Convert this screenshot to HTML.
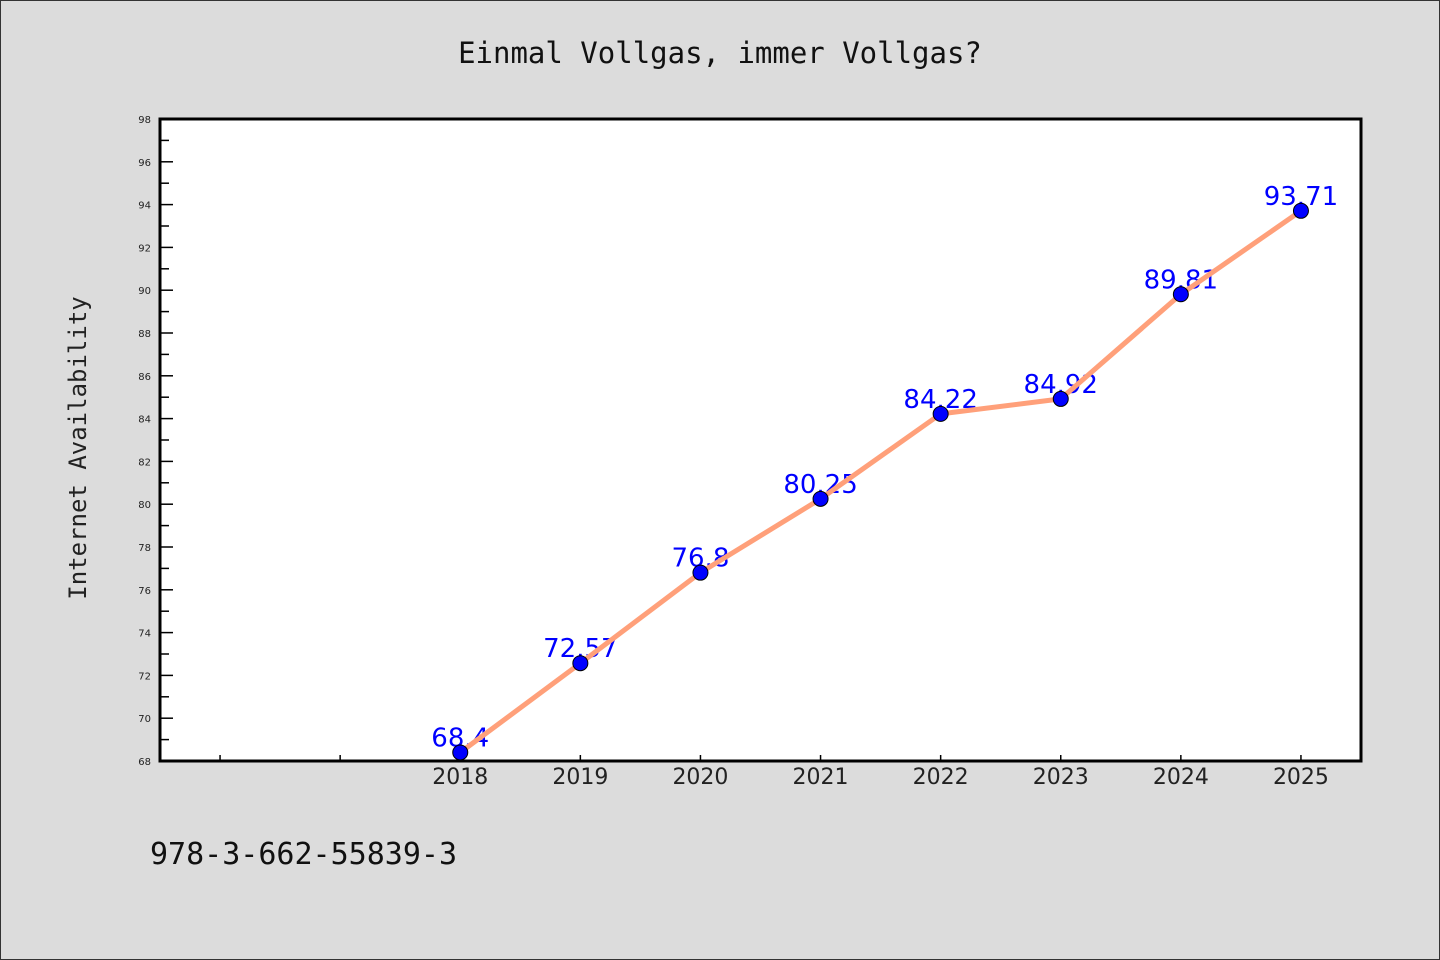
<!DOCTYPE html>
<html><head><meta charset="utf-8"><style>
html,body{margin:0;padding:0;background:#dcdcdc;}
svg{display:block;}
</style></head><body>
<svg width="1440" height="960" viewBox="0 0 1440 960">
<rect x="0.5" y="0.5" width="1439" height="959" fill="#dcdcdc" stroke="#333" stroke-width="1"/>
<text x="720" y="63" text-anchor="middle" font-family="DejaVu Sans Mono, Liberation Mono, monospace" font-size="29" fill="#111">Einmal Vollgas, immer Vollgas?</text>
<text transform="translate(86,448) rotate(-90)" text-anchor="middle" font-family="DejaVu Sans Mono, Liberation Mono, monospace" font-size="24" fill="#222">Internet Availability</text>
<text x="150" y="864" font-family="DejaVu Sans Mono, Liberation Mono, monospace" font-size="30" fill="#111">978-3-662-55839-3</text>
<rect x="160" y="119" width="1201" height="642" fill="#fff"/>
<g id="ticks"></g>
<g id="labels"></g>
<g id="series"></g>
<rect x="160" y="119" width="1201" height="642" fill="none" stroke="#000" stroke-width="3"/>
</svg>
<script>
const years = [2018, 2019, 2020, 2021, 2022, 2023, 2024, 2025];
const values = [68.4, 72.57, 76.8, 80.25, 84.22, 84.92, 89.81, 93.71];
const valueLabels = ["68.4", "72.57", "76.8", "80.25", "84.22", "84.92", "89.81", "93.71"];
const yTicks = [68, 70, 72, 74, 76, 78, 80, 82, 84, 86, 88, 90, 92, 94, 96, 98];
const xMinorTicks = [2016, 2017];

const NS = "http://www.w3.org/2000/svg";
const X0 = 160, X1 = 1361, Y0 = 761, Y1 = 119;
const xMin = 2015.5, xMax = 2025.5, yMin = 68, yMax = 98;
function xs(v){ return X0 + (v - xMin) / (xMax - xMin) * (X1 - X0); }
function ys(v){ return Y0 - (v - yMin) / (yMax - yMin) * (Y0 - Y1); }
function mk(tag, attrs, parent){ const e = document.createElementNS(NS, tag); for (const k in attrs) e.setAttribute(k, attrs[k]); parent.appendChild(e); return e; }

const tg = document.getElementById('ticks');
yTicks.forEach((t, i) => {
  const y = ys(t);
  const l = mk('line', {x1: X0, x2: X0 + 13, y1: y, y2: y, stroke: '#000', 'stroke-width': 1.5}, tg);
  
  
  const tx = mk('text', {x: 151, y: y + 4, 'text-anchor': 'end', 'font-family': 'DejaVu Sans, Liberation Sans, sans-serif', 'font-size': 10, fill: '#222'}, tg);
  tx.textContent = t;
  
  
  if (i < yTicks.length - 1) {
    const ym = ys(t + 1);
    const m = mk('line', {x1: X0, x2: X0 + 9, y1: ym, y2: ym, stroke: '#000', 'stroke-width': 1.5}, tg);
    
    
  }
});
xMinorTicks.concat(years).forEach(v => {
  const x = xs(v);
  const l = mk('line', {x1: x, x2: x, y1: Y0, y2: Y0 - 6, stroke: '#000', 'stroke-width': 1.5}, tg);
  
  
});
years.forEach(v => {
  const tx = mk('text', {x: xs(v), y: 784, 'text-anchor': 'middle', 'font-family': 'DejaVu Sans, Liberation Sans, sans-serif', 'font-size': 22, fill: '#222'}, tg);
  tx.textContent = v;
  
  
});

const lg = document.getElementById('labels');
years.forEach((v, i) => {
  const tx = mk('text', {x: xs(v), y: ys(values[i]) - 6, 'text-anchor': 'middle', 'font-family': 'DejaVu Sans, Liberation Sans, sans-serif', 'font-size': 26, fill: '#0000ff'}, lg);
  tx.textContent = valueLabels[i];
  
  
});

const sg = document.getElementById('series');
const pts = years.map((v, i) => xs(v) + ',' + ys(values[i])).join(' ');
const pl = mk('polyline', {points: pts, fill: 'none', stroke: '#ffa07a', 'stroke-width': 5, 'stroke-linejoin': 'round'}, sg);


years.forEach((v, i) => {
  const c = mk('circle', {cx: xs(v), cy: ys(values[i]), r: 7.5, fill: '#0000ff', stroke: '#000', 'stroke-width': 1}, sg);
  
  
});
</script>
</body></html>
